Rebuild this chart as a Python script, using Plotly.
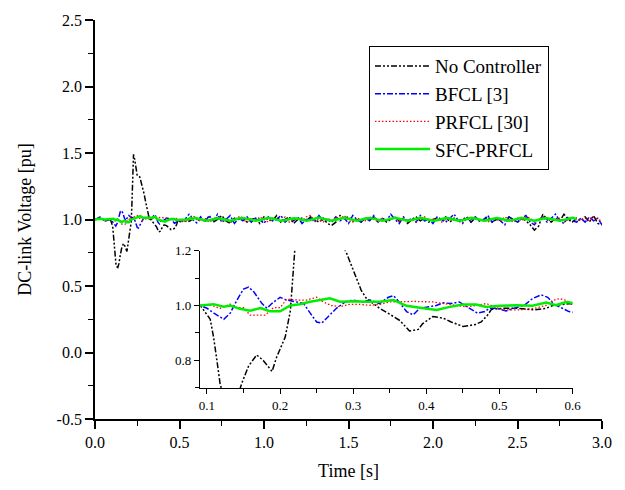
import plotly.graph_objects as go

# ---------------- data ----------------
# No Controller
t_nc = [0.0, 0.03, 0.06, 0.091, 0.1045, 0.109, 0.1136, 0.118, 0.125, 0.135, 0.142, 0.148, 0.157, 0.168,
        0.177, 0.189, 0.195, 0.207, 0.214, 0.218, 0.222, 0.228, 0.235, 0.25, 0.265, 0.28, 0.291, 0.3,
        0.311, 0.318, 0.336, 0.355, 0.364, 0.377, 0.389, 0.395, 0.409, 0.423, 0.434, 0.45, 0.466,
        0.475, 0.484, 0.489, 0.5045, 0.523, 0.548, 0.564, 0.5727, 0.598, 0.607,
        0.625, 0.65, 0.675, 0.7, 0.725, 0.75, 0.775, 0.8, 0.825, 0.85, 0.875, 0.9, 0.925, 0.95, 0.975,
        1.0, 1.025, 1.05, 1.075, 1.1, 1.125, 1.15, 1.175, 1.2, 1.225, 1.25, 1.275, 1.3, 1.325, 1.35,
        1.375, 1.4, 1.425, 1.45, 1.475, 1.5, 1.525, 1.55, 1.575, 1.6, 1.625, 1.65, 1.675, 1.7, 1.725,
        1.75, 1.775, 1.8, 1.825, 1.85, 1.875, 1.9, 1.925, 1.95, 1.975, 2.0, 2.025, 2.05, 2.075, 2.1,
        2.125, 2.15, 2.175, 2.2, 2.225, 2.25, 2.275, 2.3, 2.325, 2.35, 2.375, 2.4, 2.425, 2.45, 2.475,
        2.5, 2.525, 2.55, 2.575, 2.6, 2.625, 2.65, 2.675, 2.7, 2.725, 2.75, 2.775, 2.8, 2.825, 2.85,
        2.875, 2.9, 2.925, 2.95, 2.975, 3.0]
v_nc = [1.0, 1.01, 0.99, 1.0, 0.95, 0.885, 0.80, 0.714, 0.65, 0.64, 0.67, 0.72, 0.78, 0.82,
        0.80, 0.76, 0.81, 0.885, 0.98, 1.10, 1.30, 1.49, 1.45, 1.33, 1.32, 1.25, 1.19, 1.13,
        1.055, 1.026, 0.99, 0.96, 0.945, 0.907, 0.913, 0.934, 0.96, 0.954, 0.94, 0.924, 0.93,
        0.94, 0.966, 0.986, 0.99, 0.99, 0.984, 0.99, 1.0, 1.007, 0.995,
        1.01, 0.99, 1.02, 0.98, 1.0, 1.03, 0.99, 0.97, 1.01, 1.0, 1.02, 0.98, 1.0, 1.01, 0.97,
        1.02, 1.0, 0.99, 1.03, 0.98, 1.0, 1.02, 0.97, 1.0, 1.01, 0.99, 1.02, 1.0, 0.98, 1.01,
        0.97, 0.955, 0.98, 1.03, 1.01, 1.02, 0.99, 1.0, 0.98, 1.01, 1.0, 1.02, 0.99, 1.01, 0.98,
        1.0, 1.02, 0.99, 1.01, 0.97, 1.0, 1.02, 0.99, 1.01, 0.98, 1.0, 1.01, 0.99, 1.02, 0.98,
        1.01, 0.99, 1.0, 1.02, 0.98, 1.01, 0.99, 1.0, 1.02, 0.98, 1.0, 1.01, 0.99, 1.02, 1.0,
        0.98, 1.01, 0.99, 0.96, 0.92, 0.95, 1.04, 1.0, 0.98, 1.01, 0.99, 1.04, 1.0, 0.98, 1.01,
        0.99, 1.02, 0.98, 1.03, 0.97, 0.96]

# BFCL [3]
t_bf = [0.0, 0.03, 0.06, 0.091, 0.1, 0.109, 0.123, 0.132, 0.141, 0.15, 0.157, 0.164, 0.175, 0.182,
        0.189, 0.2, 0.209, 0.22, 0.232, 0.241, 0.25, 0.257, 0.266, 0.277, 0.289, 0.3, 0.311, 0.323,
        0.336, 0.348, 0.355, 0.359, 0.373, 0.382, 0.391, 0.4, 0.4136, 0.423, 0.434, 0.445, 0.459,
        0.47, 0.48, 0.486, 0.495, 0.509, 0.52, 0.534, 0.545, 0.557, 0.566, 0.575, 0.586, 0.595, 0.602,
        0.625, 0.65, 0.675, 0.7, 0.725, 0.75, 0.775, 0.8, 0.825, 0.85, 0.875, 0.9, 0.925, 0.95, 0.975,
        1.0, 1.025, 1.05, 1.075, 1.1, 1.125, 1.15, 1.175, 1.2, 1.225, 1.25, 1.275, 1.3, 1.325, 1.35,
        1.375, 1.4, 1.425, 1.45, 1.475, 1.5, 1.525, 1.55, 1.575, 1.6, 1.625, 1.65, 1.675, 1.7, 1.725,
        1.75, 1.775, 1.8, 1.825, 1.85, 1.875, 1.9, 1.925, 1.95, 1.975, 2.0, 2.025, 2.05, 2.075, 2.1,
        2.125, 2.15, 2.175, 2.2, 2.225, 2.25, 2.275, 2.3, 2.325, 2.35, 2.375, 2.4, 2.425, 2.45, 2.475,
        2.5, 2.525, 2.55, 2.575, 2.6, 2.625, 2.65, 2.675, 2.7, 2.725, 2.75, 2.775, 2.8, 2.825, 2.85,
        2.875, 2.9, 2.925, 2.95, 2.975, 3.0]
v_bf = [1.0, 1.02, 0.99, 1.0, 0.99, 0.973, 0.95, 0.973, 1.02, 1.06, 1.067, 1.05, 1.008, 0.99,
        1.008, 1.03, 1.02, 1.014, 1.008, 0.973, 0.94, 0.936, 0.96, 0.99, 1.013, 1.02, 1.013, 1.02,
        1.007, 1.03, 1.036, 1.025, 0.978, 0.966, 0.99, 0.995, 1.0, 1.01, 1.007, 1.013, 0.99,
        0.972, 0.978, 0.99, 0.99, 0.98, 0.99, 1.001, 1.025, 1.039, 1.03, 1.004, 0.99, 0.978, 0.975,
        1.02, 0.98, 1.03, 0.99, 1.04, 0.98, 1.0, 1.03, 0.97, 1.01, 0.99, 1.02, 0.98, 1.01, 1.0,
        0.97, 1.02, 0.99, 1.0, 1.03, 0.98, 1.01, 0.99, 1.02, 0.97, 1.0, 1.01, 0.98, 1.03, 0.99,
        1.0, 0.98, 1.02, 0.99, 1.01, 0.97, 1.03, 1.0, 0.98, 1.01, 0.99, 1.03, 0.98, 1.01, 0.99,
        1.04, 1.0, 0.97, 1.02, 0.99, 1.01, 0.98, 1.03, 0.99, 1.0, 0.97, 1.02, 1.0, 0.98, 1.01,
        1.04, 0.99, 0.97, 1.01, 0.98, 1.02, 0.99, 1.0, 1.03, 0.98, 1.01, 0.99, 0.96, 1.02, 1.0,
        0.98, 1.01, 1.03, 0.98, 0.96, 1.0, 1.02, 0.98, 1.01, 1.04, 0.99, 0.97, 1.02, 0.99, 0.98,
        1.01, 0.98, 1.02, 0.99, 1.01, 0.96]

# PRFCL [30]
t_pr = [0.0, 0.03, 0.06, 0.091, 0.1045, 0.118, 0.132, 0.141, 0.15, 0.159, 0.168, 0.1795, 0.191, 0.2,
        0.209, 0.223, 0.236, 0.25, 0.259, 0.27, 0.282, 0.295, 0.309, 0.323, 0.336, 0.35, 0.382,
        0.409, 0.432, 0.455, 0.482, 0.5045, 0.527, 0.548, 0.564, 0.573, 0.582, 0.591, 0.602, 0.607,
        0.625, 0.65, 0.675, 0.7, 0.725, 0.75, 0.775, 0.8, 0.825, 0.85, 0.875, 0.9, 0.925, 0.95, 0.975,
        1.0, 1.025, 1.05, 1.075, 1.1, 1.125, 1.15, 1.175, 1.2, 1.225, 1.25, 1.275, 1.3, 1.325, 1.35,
        1.375, 1.4, 1.425, 1.45, 1.475, 1.5, 1.525, 1.55, 1.575, 1.6, 1.625, 1.65, 1.675, 1.7, 1.725,
        1.75, 1.775, 1.8, 1.825, 1.85, 1.875, 1.9, 1.925, 1.95, 1.975, 2.0, 2.025, 2.05, 2.075, 2.1,
        2.125, 2.15, 2.175, 2.2, 2.225, 2.25, 2.275, 2.3, 2.325, 2.35, 2.375, 2.4, 2.425, 2.45, 2.475,
        2.5, 2.525, 2.55, 2.575, 2.6, 2.625, 2.65, 2.675, 2.7, 2.725, 2.75, 2.775, 2.8, 2.825, 2.85,
        2.875, 2.9, 2.925, 2.95, 2.975, 3.0]
v_pr = [1.0, 1.01, 0.99, 1.0, 1.002, 0.99, 1.005, 0.992, 0.992, 0.965, 0.965, 0.965, 0.992, 0.992,
        1.023, 1.02, 1.02, 1.03, 1.013, 1.0, 0.996, 1.004, 1.004, 1.001, 1.004, 1.013, 1.015,
        1.013, 1.004, 0.995, 1.007, 0.984, 0.984, 0.99, 1.001, 1.019, 1.025, 1.019, 1.001, 0.995,
        0.99, 1.01, 0.98, 1.0, 1.02, 0.99, 1.01, 0.98, 1.0, 1.02, 1.0, 0.98, 1.01, 0.99, 1.02,
        1.0, 0.98, 1.01, 1.0, 0.99, 1.02, 0.98, 1.0, 1.01, 0.99, 1.02, 1.03, 0.99, 1.0, 0.98,
        1.01, 0.99, 1.02, 1.0, 1.03, 0.99, 0.98, 1.01, 1.0, 0.99, 1.02, 1.0, 0.98, 1.01, 0.99,
        1.0, 1.02, 0.98, 1.01, 0.99, 1.0, 0.98, 1.01, 1.02, 0.99, 1.0, 1.01, 0.98, 1.0, 1.02,
        0.99, 1.0, 0.98, 1.01, 1.0, 1.02, 0.99, 1.0, 0.98, 1.01, 1.0, 0.99, 1.02, 1.0, 0.98,
        1.01, 0.99, 1.02, 1.01, 0.98, 1.0, 1.02, 1.01, 0.99, 1.0, 1.01, 0.98, 1.0, 1.02, 0.99,
        1.0, 1.01, 0.99, 1.02, 1.0, 0.99]

# SFC-PRFCL
t_sf = [0.0, 0.03, 0.06, 0.091, 0.109, 0.123, 0.132, 0.145, 0.159, 0.173, 0.186, 0.2, 0.214, 0.227,
        0.241, 0.255, 0.268, 0.282, 0.3, 0.318, 0.336, 0.355, 0.359, 0.373, 0.391, 0.414, 0.432,
        0.45, 0.468, 0.482, 0.5, 0.523, 0.545, 0.564, 0.577, 0.591, 0.607,
        0.625, 0.65, 0.675, 0.7, 0.725, 0.75, 0.775, 0.8, 0.825, 0.85, 0.875, 0.9, 0.925, 0.95, 0.975,
        1.0, 1.025, 1.05, 1.075, 1.1, 1.125, 1.15, 1.175, 1.2, 1.225, 1.25, 1.275, 1.3, 1.325, 1.35,
        1.375, 1.4, 1.425, 1.45, 1.475, 1.5, 1.525, 1.55, 1.575, 1.6, 1.625, 1.65, 1.675, 1.7, 1.725,
        1.75, 1.775, 1.8, 1.825, 1.85, 1.875, 1.9, 1.925, 1.95, 1.975, 2.0, 2.025, 2.05, 2.075, 2.1,
        2.125, 2.15, 2.175, 2.2, 2.225, 2.25, 2.275, 2.3, 2.325, 2.35, 2.375, 2.4, 2.425, 2.45, 2.475,
        2.5, 2.525, 2.55, 2.575, 2.6, 2.625, 2.65, 2.675, 2.7, 2.725, 2.75, 2.775, 2.8, 2.825, 2.85,
        2.875, 2.9, 2.925, 2.95, 2.975, 3.0]
v_sf = [1.0, 1.005, 1.0, 1.0, 1.005, 0.996, 1.0, 0.988, 0.981, 0.991, 0.979, 0.979, 1.0, 1.005,
        1.014, 1.02, 1.026, 1.014, 1.016, 1.014, 1.014, 1.02, 1.015, 0.999, 0.992, 0.984, 0.995,
        1.004, 1.004, 0.995, 0.999, 1.001, 0.999, 1.011, 1.001, 1.013, 1.007,
        1.0, 0.992, 0.995, 1.003, 1.01, 1.004, 0.995, 0.99, 0.998, 1.008, 1.012, 1.004, 0.995, 0.99,
        0.996, 1.006, 1.012, 1.008, 0.998, 0.99, 0.994, 1.004, 1.01, 1.006, 0.997, 0.99, 0.996, 1.008,
        1.014, 1.005, 0.995, 0.99, 0.998, 1.008, 1.013, 1.005, 0.996, 0.991, 0.998, 1.008, 1.012, 1.004,
        0.995, 0.99, 0.997, 1.007, 1.012, 1.005, 0.996, 0.99, 0.996, 1.006, 1.012, 1.006, 0.997, 0.99,
        0.995, 1.005, 1.011, 1.007, 0.998, 0.991, 0.995, 1.005, 1.012, 1.007, 0.997, 0.99, 0.996, 1.006,
        1.011, 1.005, 0.996, 0.99, 0.997, 1.007, 1.012, 1.004, 0.995, 0.991, 0.998, 1.008, 1.01, 1.003,
        0.995, 0.99, 0.997, 1.006, 1.012, 1.004]

series = [
    ("No Controller", t_nc, v_nc, dict(color="black", width=1.5, dash="6px,2px,2px,2px,2px,2px")),
    ("BFCL [3]", t_bf, v_bf, dict(color="blue", width=1.5, dash="6px,2px,2px,2px")),
    ("PRFCL [30]", t_pr, v_pr, dict(color="red", width=1.3, dash="1.5px,2px")),
    ("SFC-PRFCL", t_sf, v_sf, dict(color="#00ee00", width=2.5)),
]

main_xticks = [0.0, 0.5, 1.0, 1.5, 2.0, 2.5, 3.0]
main_yticks = [-0.5, 0.0, 0.5, 1.0, 1.5, 2.0, 2.5]
inset_xticks = [0.1, 0.2, 0.3, 0.4, 0.5, 0.6]
inset_yticks = [0.8, 1.0, 1.2]

FONT = "Liberation Serif"

fig = go.Figure()
for name, t, v, ln in series:
    fig.add_trace(go.Scatter(x=t, y=v, mode="lines", name=name, line=ln, xaxis="x", yaxis="y"))
for name, t, v, ln in series:
    fig.add_trace(go.Scatter(x=t, y=v, mode="lines", name=name, line=ln, xaxis="x2", yaxis="y2",
                             showlegend=False))

axis_common = dict(showgrid=False, zeroline=False, showline=True, linecolor="black",
                   ticks="outside", tickcolor="black", mirror=False)

fig.update_layout(
    width=625, height=490,
    margin=dict(l=95, r=23, t=14, b=66),
    paper_bgcolor="white", plot_bgcolor="white",
    font=dict(family=FONT, color="black", size=15),
    xaxis=dict(axis_common, domain=[0, 1], range=[0, 3.0], tickvals=main_xticks,
               ticktext=[f"{v:.1f}" for v in main_xticks], linewidth=1.8, ticklen=8, tickwidth=1.5,
               minor=dict(dtick=0.25, tick0=0, ticklen=5, ticks="outside", tickcolor="black", tickwidth=1.2),
               title=dict(text="Time [s]", font=dict(size=18, family=FONT), standoff=14),
               tickfont=dict(size=16, family=FONT)),
    yaxis=dict(axis_common, domain=[0, 1], range=[-0.5, 2.5], tickvals=main_yticks,
               ticktext=[f"{v:.1f}" for v in main_yticks], linewidth=1.8, ticklen=8, tickwidth=1.5,
               minor=dict(dtick=0.25, tick0=0, ticklen=5, ticks="outside", tickcolor="black", tickwidth=1.2),
               title=dict(text="DC-link Voltage [pu]", font=dict(size=18, family=FONT), standoff=20),
               tickfont=dict(size=16, family=FONT)),
    xaxis2=dict(axis_common, domain=[0.207, 0.942], anchor="y2", range=[0.0904, 0.6],
                tickvals=inset_xticks, ticktext=[f"{v:.1f}" for v in inset_xticks],
                linewidth=1.3, ticklen=5, tickwidth=1.2,
                minor=dict(dtick=0.05, tick0=0, ticklen=4, ticks="outside", tickcolor="black"),
                tickfont=dict(size=13, family=FONT)),
    yaxis2=dict(axis_common, domain=[0.078, 0.422], anchor="x2", range=[0.70, 1.2],
                tickvals=inset_yticks, ticktext=[f"{v:.1f}" for v in inset_yticks],
                linewidth=1.3, ticklen=5, tickwidth=1.2,
                minor=dict(dtick=0.1, tick0=0, ticklen=4, ticks="outside", tickcolor="black"),
                tickfont=dict(size=13, family=FONT)),
    legend=dict(x=0.54, y=0.935, xanchor="left", yanchor="top", bgcolor="white",
                bordercolor="black", borderwidth=1.2, itemwidth=55, tracegroupgap=0,
                font=dict(size=19, family=FONT)),
    showlegend=True,
)

fig.write_html("out.html")
